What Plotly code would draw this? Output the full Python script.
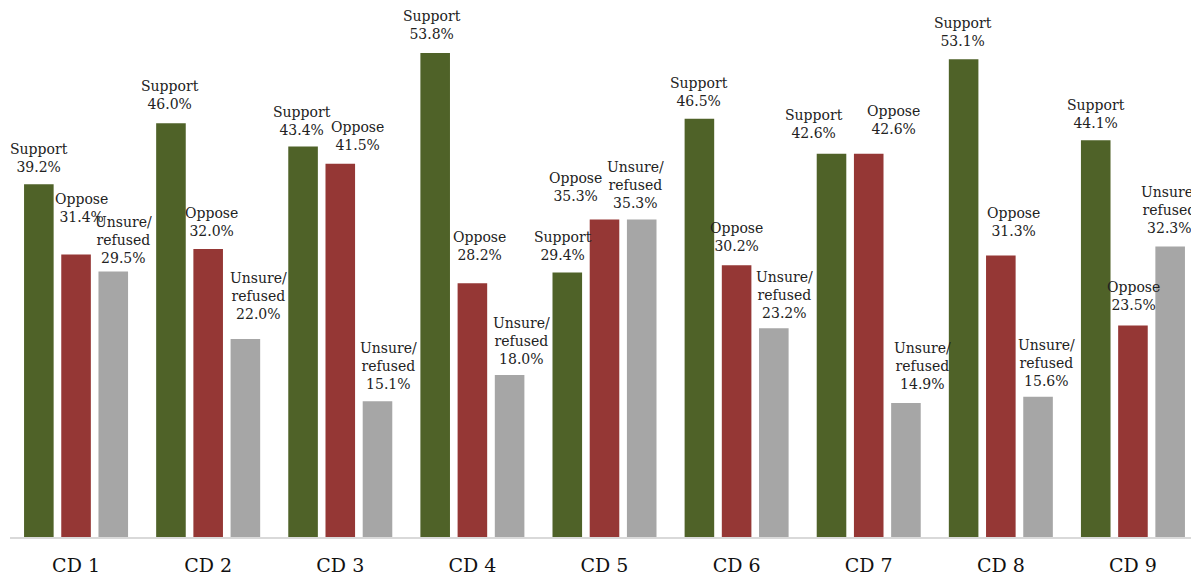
import plotly.graph_objects as go

categories = ["CD 1", "CD 2", "CD 3", "CD 4", "CD 5", "CD 6", "CD 7", "CD 8", "CD 9"]
support = [39.2, 46.0, 43.4, 53.8, 29.4, 46.5, 42.6, 53.1, 44.1]
oppose = [31.4, 32.0, 41.5, 28.2, 35.3, 30.2, 42.6, 31.3, 23.5]
unsure = [29.5, 22.0, 15.1, 18.0, 35.3, 23.2, 14.9, 15.6, 32.3]

series_names = ["Support", "Oppose", "Unsure/refused"]
label_heads = ["Support", "Oppose", "Unsure/<br>refused"]
series_values = [support, oppose, unsure]
series_colors = ["#4F6228", "#953735", "#A6A6A6"]

# label placement nudges in pixels (dx, dy) per series, per category (layout only)
label_nudges = [
    [(0, -1), (-1, 1), (-1, -1), (-3, 1), (-4, 0), (0, 0), (-18, 3), (-1, 0), (0, -1)],
    [(5, 20), (3, 0), (17, 1), (7, 10), (-29, 5), (0, 1), (25, 7), (13, 6), (1, 3)],
    [(10, -4), (13, 7), (11, -1), (12, -2), (-6, -2), (11, -3), (17, 1), (8, -2), (-1, 0)],
]

FONT = "DejaVu Serif"
BAR_SLOT = 37.2  # px distance between bar centres within a group
BASE_YSHIFT = 8

fig = go.Figure()
for name, vals, color in zip(series_names, series_values, series_colors):
    fig.add_trace(go.Bar(
        x=categories, y=vals, name=name,
        marker=dict(color=color, line=dict(width=0)),
        hoverinfo="skip",
    ))

annotations = []
for si, (head, vals) in enumerate(zip(label_heads, series_values)):
    for ci, (cat, v) in enumerate(zip(categories, vals)):
        dx, dy = label_nudges[si][ci]
        annotations.append(dict(
            x=cat, y=v, xref="x", yref="y",
            text=f"{head}<br>{v:.1f}%",
            showarrow=False,
            xanchor="center", yanchor="bottom",
            xshift=(si - 1) * BAR_SLOT + dx,
            yshift=BASE_YSHIFT + dy,
            font=dict(family=FONT, size=14, color="#222222"),
            align="center",
        ))

fig.update_layout(
    width=1191, height=572,
    margin=dict(l=2, r=0, t=0, b=43),
    barmode="group",
    bargap=0.155,
    bargroupgap=0.205,
    showlegend=False,
    plot_bgcolor="white",
    paper_bgcolor="white",
    annotations=annotations,
    xaxis=dict(
        range=[-0.5, 8.5],
        showline=True, linecolor="#D9D9D9", linewidth=1.5,
        showgrid=False, ticks="",
        ticklabelstandoff=10,
        tickfont=dict(family=FONT, size=19, color="#111111"),
    ),
    yaxis=dict(range=[0, 58.8], visible=False, showgrid=False),
)

fig.write_html("out.html")
